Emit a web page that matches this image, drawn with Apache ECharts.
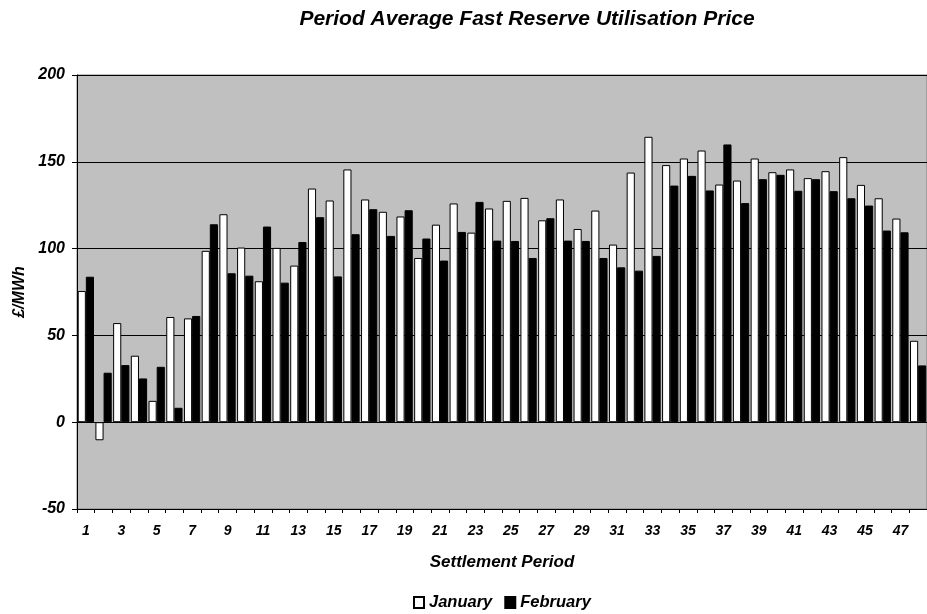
<!DOCTYPE html>
<html><head><meta charset="utf-8">
<script src="https://cdn.jsdelivr.net/npm/echarts@6/dist/echarts.min.js"></script>
<style>html,body{margin:0;padding:0;background:#fff}#c{width:927px;height:614px}</style>
</head><body><div id="c"></div>
<script>
const categories = Array.from({length:48},(_,i)=>String(i+1));
const january = [75.6,-10.4,57.1,38.3,12.3,60.6,59.8,98.7,119.8,100.6,81.2,100.4,90.2,134.6,127.7,145.6,
128.3,121.2,118.5,94.6,113.8,126,109.2,123.1,127.5,129.2,116.3,128.3,111.3,121.9,102.3,143.8,
164.4,148.1,151.9,156.5,136.9,139.2,151.9,144,145.6,140.6,144.6,152.7,136.7,129,117.3,46.9];
const february = [83.8,28.5,32.9,25.2,31.9,8.3,61.2,114,85.8,84.4,112.7,80.4,103.8,118.1,84,108.3,
122.7,107.3,122.1,105.8,93.1,109.6,126.9,104.6,104.4,94.6,117.5,104.6,104.4,94.6,89.2,87.3,
95.8,136.3,141.9,133.5,160,126.2,140,142.5,133.3,140,133.1,129,124.8,110.4,109.4,32.7];
const yTicks = [-50,0,50,100,150,200];

const font = {fontFamily:'"Liberation Sans", Arial, sans-serif', fontWeight:'bold', fontStyle:'italic', color:'#000'};
const chart = echarts.init(document.getElementById('c'));
chart.setOption({
  animation:false,
  backgroundColor:'#fff',
  title:{text:'Period Average Fast Reserve Utilisation Price', left:522, top:4, textAlign:'center',
    textStyle:Object.assign({},font,{fontSize:21})},
  grid:{left:77,right:0,top:75,bottom:105,backgroundColor:'#C0C0C0',show:true,borderColor:'#808080',borderWidth:1},
  legend:{top:589,left:408,itemWidth:10,itemHeight:11,itemGap:12,
    textStyle:Object.assign({},font,{fontSize:16.5}),
    data:[{name:'January',icon:'rect'},{name:'February',icon:'rect'}]},
  xAxis:[{
    type:'category', data:categories, position:'bottom',
    axisLine:{show:false}, axisTick:{show:false},
    axisLabel:Object.assign({},font,{fontSize:14,interval:1,margin:15}),
    name:'Settlement Period', nameLocation:'middle', nameGap:45,
    nameTextStyle:Object.assign({},font,{fontSize:17})
  },{
    type:'category', data:categories, position:'bottom',
    axisLine:{show:true,onZero:true,lineStyle:{color:'#000',width:1}},
    axisTick:{show:true,length:4,lineStyle:{color:'#000'}},
    axisLabel:{show:false}
  }],
  yAxis:{
    type:'value', min:-50, max:200, interval:50,
    axisLine:{show:true,lineStyle:{color:'#000'}},
    axisTick:{show:true,length:5,lineStyle:{color:'#000'}},
    splitLine:{show:true,lineStyle:{color:'#000',width:1}},
    axisLabel:Object.assign({},font,{fontSize:16,margin:12}),
    name:'£/MWh', nameLocation:'middle', nameGap:38,
    nameTextStyle:Object.assign({},font,{fontSize:16})
  },
  series:[
    {name:'January',type:'bar',data:january,barGap:'0%',barCategoryGap:'8%',
     itemStyle:{color:'#fff',borderColor:'#000',borderWidth:1}},
    {name:'February',type:'bar',data:february,
     itemStyle:{color:'#000',borderColor:'#000',borderWidth:1}}
  ]
});
</script></body></html>
